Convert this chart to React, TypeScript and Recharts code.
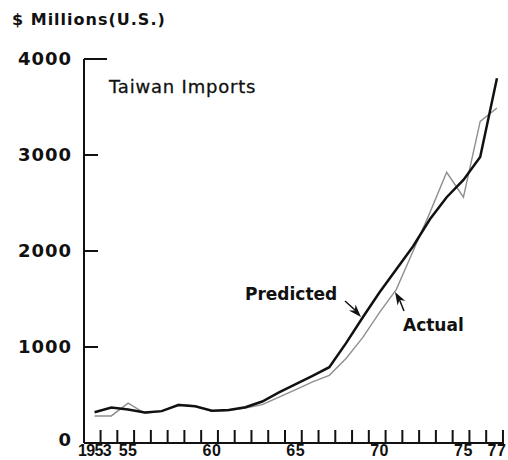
import React from 'react'
import { LineChart, Line, XAxis, YAxis } from 'recharts'

// Taiwan imports, $ millions (U.S.)
const years = [
  1953, 1954, 1955, 1956, 1957, 1958, 1959, 1960, 1961, 1962, 1963, 1964, 1965,
  1966, 1967, 1968, 1969, 1970, 1971, 1972, 1973, 1974, 1975, 1976, 1977,
]
const predicted = [
  320, 370, 350, 318, 332, 396, 382, 336, 345, 372, 432, 528, 612, 700, 790,
  1040, 1310, 1570, 1810, 2050, 2330, 2560, 2740, 2980, 3800,
]
const actual = [
  282, 282, 415, 310, 330, 405, 385, 330, 338, 365, 400, 478, 557, 636, 705,
  880, 1100, 1360, 1600, 2000, 2400, 2820, 2560, 3350, 3490,
]
const yTicks = [0, 1000, 2000, 3000, 4000]
const yearLabels: Record<number, string> = {
  1953: '1953',
  1955: '55',
  1960: '60',
  1965: '65',
  1970: '70',
  1975: '75',
  1977: '77',
}

const rows = years.map((year, i) => ({ year, predicted: predicted[i], actual: actual[i] }))

const WIDE = "'DejaVu Sans', sans-serif"
const HELV = "'Liberation Sans', Arial, sans-serif"
const INK = '#111'

// plot box (must match chart margins below)
const TOP = 59
const BOTTOM = 443
const LEFT = 84
const yPix = (v: number) => BOTTOM - ((BOTTOM - TOP) * v) / 4000

const YTick = (props: any) => {
  const { x, y, payload } = props
  const v = Number(payload.value)
  return (
    <text
      x={x}
      y={v === 0 ? y - 3 : y}
      dy="0.36em"
      textAnchor="end"
      fontFamily={WIDE}
      fontWeight="bold"
      fontSize={18}
      letterSpacing={1}
      fill={INK}
    >
      {v}
    </text>
  )
}

const XTick = (props: any) => {
  const { x, y, payload } = props
  const label = yearLabels[payload.value]
  return (
    <g>
      <line x1={x + 6} x2={x + 6} y1={y} y2={y - 13} stroke={INK} strokeWidth={2} />
      {label && (
        <text
          x={x}
          y={y + 13}
          textAnchor="middle"
          fontFamily={HELV}
          fontWeight="bold"
          fontSize={16}
          letterSpacing={label.length > 2 ? -0.6 : 0.5}
          fill={INK}
        >
          {label}
        </text>
      )}
    </g>
  )
}

export default function App() {
  return (
    <div style={{ position: 'absolute', left: 0, top: 0, width: 508, height: 460, background: '#fff' }}>
      <LineChart width={508} height={460} data={rows} margin={{ top: TOP, right: 4, bottom: 0, left: 0 }}>
        <XAxis
          dataKey="year"
          type="number"
          domain={[1952.37, 1977.42]}
          ticks={years}
          interval={0}
          height={17}
          tickSize={0}
          tickMargin={0}
          tick={<XTick />}
          axisLine={{ stroke: INK, strokeWidth: 2 }}
          allowDataOverflow
        />
        <YAxis
          domain={[0, 4000]}
          ticks={yTicks}
          width={LEFT}
          tickSize={0}
          tickMargin={12}
          tickLine={false}
          tick={<YTick />}
          axisLine={{ stroke: INK, strokeWidth: 2 }}
        />
        <Line
          dataKey="actual"
          type="linear"
          stroke="#8f8f8f"
          strokeWidth={1.4}
          dot={false}
          isAnimationActive={false}
        />
        <Line
          dataKey="predicted"
          type="linear"
          stroke={INK}
          strokeWidth={2.5}
          dot={false}
          isAnimationActive={false}
        />
      </LineChart>
      <svg
        width={508}
        height={460}
        style={{ position: 'absolute', left: 0, top: 0, pointerEvents: 'none' }}
      >
        {/* inward tick marks on the value axis; the top one is longer */}
        {yTicks
          .filter((v) => v > 0)
          .map((v) => (
            <line
              key={v}
              x1={LEFT}
              x2={LEFT + (v === 4000 ? 23 : 14)}
              y1={yPix(v)}
              y2={yPix(v)}
              stroke={INK}
              strokeWidth={2}
            />
          ))}
        <text x={12} y={25} fontFamily={WIDE} fontWeight="bold" fontSize={16} letterSpacing={1} fill={INK}>
          $ Millions(U.S.)
        </text>
        <text x={109} y={93} fontFamily={WIDE} fontSize={18} letterSpacing={0.8} fill={INK} stroke={INK} strokeWidth={0.3}>
          Taiwan  Imports
        </text>
        <text x={245} y={300} fontFamily={WIDE} fontWeight="bold" fontSize={17} fill={INK}>
          Predicted
        </text>
        <text x={403} y={331} fontFamily={WIDE} fontWeight="bold" fontSize={17} fill={INK}>
          Actual
        </text>
        <line x1={345} y1={301} x2={355} y2={310} stroke={INK} strokeWidth={1.5} />
        <polygon points="361,317 348.9,310.6 354.9,310.4 355.5,304.5" fill={INK} />
        <line x1={404} y1={311} x2={399.5} y2={299.8} stroke={INK} strokeWidth={1.5} />
        <polygon points="395,292 405.4,301 399.5,299.8 397.6,305.5" fill={INK} />
      </svg>
    </div>
  )
}
